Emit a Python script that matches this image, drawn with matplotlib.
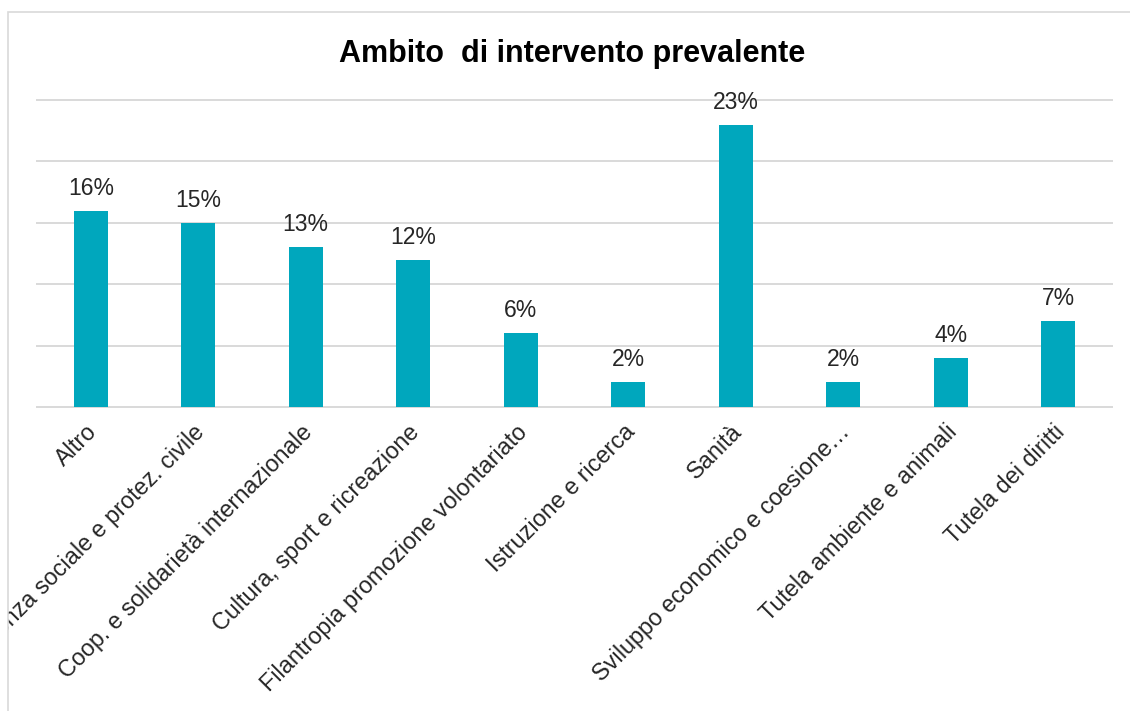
import matplotlib
matplotlib.use("Agg")
import matplotlib.pyplot as plt
from matplotlib.patches import Rectangle
from matplotlib.transforms import ScaledTranslation, Bbox, TransformedBbox

categories = [
    "Altro",
    "Assistenza sociale e protez. civile",
    "Coop. e solidarietà internazionale",
    "Cultura, sport e ricreazione",
    "Filantropia promozione volontariato",
    "Istruzione e ricerca",
    "Sanità",
    "Sviluppo economico e coesione…",
    "Tutela ambiente e animali",
    "Tutela dei diritti",
]
values = [16, 15, 13, 12, 6, 2, 23, 2, 4, 7]
title = "Ambito  di intervento prevalente"

W, H, DPI = 1130, 711, 100
plt.rcParams['font.family'] = ['Liberation Sans', 'DejaVu Sans']

fig = plt.figure(figsize=(W / DPI, H / DPI), dpi=DPI)
fig.patch.set_facecolor('white')

# outer chart frame
frame = Rectangle((8 / W, -0.05), 1.2, (H - 12) / H + 0.05, transform=fig.transFigure,
                  fill=False, edgecolor='#D9D9D9', linewidth=1.2, clip_on=False)
fig.patches.append(frame)

ax = fig.add_axes([37 / W, (H - 407) / H, (1112 - 37) / W, (407 - 100) / H])
x = list(range(len(categories)))
bars = ax.bar(x, values, width=0.316, color='#00A7BD', zorder=3)

ax.set_xlim(-0.5, len(categories) - 0.5)
ax.set_ylim(0, 25)
ax.set_yticks([0, 5, 10, 15, 20, 25])
ax.yaxis.grid(True, color='#D9D9D9', linewidth=1.4, zorder=0)
for gl in ax.get_ygridlines():
    gl.set_clip_on(False)
ax.set_axisbelow(True)
ax.tick_params(axis='y', left=False, labelleft=False)
for s in ax.spines.values():
    s.set_visible(False)

ax.set_xticks(x)
ax.set_xticklabels(categories, rotation=45, ha='right', va='center',
                   rotation_mode='anchor', fontsize=16.8, color='#262626')
ax.tick_params(axis='x', length=0, pad=15.5)

clip = TransformedBbox(Bbox([[8 / W, 0], [1, 1]]), fig.transFigure)
for lbl in ax.get_xticklabels():
    lbl.set_transform(lbl.get_transform() + ScaledTranslation(3 / DPI, 0, fig.dpi_scale_trans))
    lbl.set_clip_box(clip)
    lbl.set_clip_on(True)

for xi, v in zip(x, values):
    ax.annotate(f"{v}%", (xi, v), xytext=(0, 11.5), textcoords='offset points',
                ha='center', va='baseline', fontsize=16.5, color='#262626')

fig.text(572 / W, (H - 62) / H, title, ha='center', va='baseline',
         fontsize=22, fontweight='bold', color='#000000')

fig.savefig("out.png", dpi=DPI, facecolor='white')
